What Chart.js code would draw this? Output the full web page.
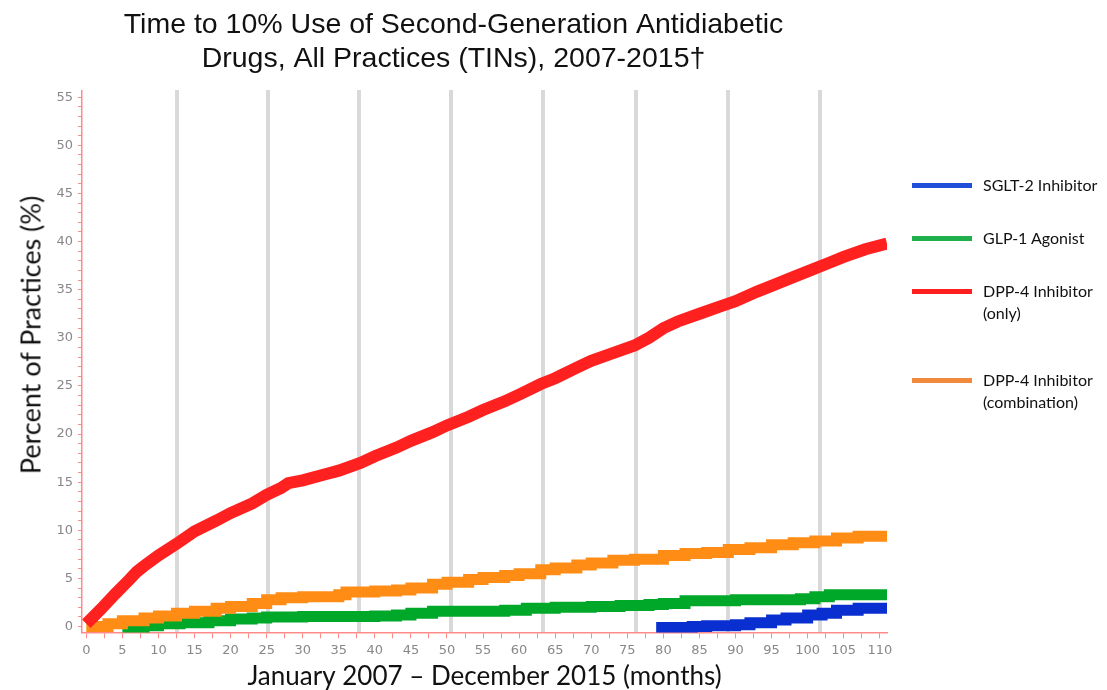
<!DOCTYPE html>
<html lang="en">
<head>
    <meta charset="UTF-8">
    <title>Time to 10% Use of Second-Generation Antidiabetic Drugs</title>
    <script src="https://cdn.jsdelivr.net/npm/chart.js@4.4.1/dist/chart.umd.min.js"></script>
    <style>
        body { margin: 0; background: #fff; }
        #wrap { position: relative; width: 1107px; height: 690px; }
        .legend { position: absolute; left: 912px; top: 0; font-family: Lato, sans-serif; font-size: 16px; color: #111; }
        .legend .item { position: absolute; left: 0; white-space: nowrap; }
        .legend .sw { position: absolute; left: 0; width: 60px; height: 5px; }
        .legend .txt { position: absolute; left: 71px; line-height: 22px; }
        #ytitle { position: absolute; left: 30px; top: 335px; transform: translate(-50%, -50%) rotate(-90deg);
                  white-space: nowrap; font-family: Lato, sans-serif; font-size: 27px; color: #111; }
    </style>
</head>
<body>
<div id="wrap">
    <canvas id="chart1"></canvas>
    <div id="ytitle">Percent of Practices (%)</div>
    <div class="legend" id="legend"></div>
</div>
<script>
    // months since January 2007 and percent of practices
    const redMonths = [0, 2, 4, 6, 7, 8, 10, 12.5, 15, 18, 20, 23, 25, 27, 28, 30, 33, 35, 38, 40, 43, 45, 48, 50, 53, 55, 58, 60, 63, 65, 68, 70, 73, 76, 78, 80, 82, 85, 88, 90, 93, 95, 98, 100, 103, 105, 108, 111];
    const redValues = [0.3, 1.8, 3.4, 4.9, 5.7, 6.3, 7.4, 8.6, 9.9, 11.0, 11.8, 12.8, 13.7, 14.4, 14.9, 15.2, 15.8, 16.2, 17.0, 17.7, 18.6, 19.3, 20.2, 20.9, 21.8, 22.5, 23.4, 24.1, 25.2, 25.8, 26.9, 27.6, 28.4, 29.2, 30.0, 31.0, 31.7, 32.5, 33.3, 33.8, 34.8, 35.4, 36.3, 36.9, 37.8, 38.4, 39.2, 39.8];

    const orangeMonths = [0, 3, 5, 8, 10, 12.5, 15, 18, 20, 23, 25, 27, 30, 35, 36, 40, 43, 45, 48, 50, 53, 55, 58, 60, 63, 65, 68, 70, 73, 76, 80, 83, 86, 89, 92, 95, 98, 101, 104, 107, 111];
    const orangeValues = [0, 0.3, 0.6, 0.9, 1.1, 1.4, 1.6, 1.9, 2.1, 2.4, 2.8, 3.0, 3.1, 3.3, 3.6, 3.7, 3.8, 4.0, 4.4, 4.6, 4.9, 5.1, 5.3, 5.5, 5.9, 6.1, 6.4, 6.6, 6.9, 7.0, 7.4, 7.6, 7.7, 8.0, 8.2, 8.5, 8.7, 8.9, 9.2, 9.4, 9.3];

    const greenMonths = [5, 8, 10, 13, 17, 20, 23, 25, 30, 35, 40, 43, 45, 48, 52, 58, 61, 65, 70, 74, 78, 80, 83, 90, 95, 99, 101, 103, 107, 111];
    const greenValues = [-0.2, 0.1, 0.3, 0.4, 0.6, 0.8, 0.9, 1.0, 1.05, 1.05, 1.1, 1.2, 1.4, 1.6, 1.6, 1.7, 1.9, 2.0, 2.1, 2.2, 2.3, 2.4, 2.7, 2.8, 2.8, 2.9, 3.1, 3.3, 3.3, 3.4];

    const blueMonths = [79, 84, 86, 90, 92, 95, 97, 100, 102, 104, 107, 111];
    const blueValues = [-0.1, 0, 0.1, 0.2, 0.4, 0.7, 0.9, 1.2, 1.4, 1.7, 1.9, 2.2];

    // light grey vertical year markers
    const yearLines = [12.58, 25.15, 37.77, 50.6, 63.3, 76.2, 88.9, 101.7];

    const xTickLabels = [0, 5, 10, 15, 20, 25, 30, 35, 40, 45, 50, 55, 60, 65, 70, 75, 80, 85, 90, 95, 100, 105, 110];
    const yTickLabels = [0, 5, 10, 15, 20, 25, 30, 35, 40, 45, 50, 55];

    const titleLines = ["Time to 10% Use of Second-Generation Antidiabetic", "Drugs, All Practices (TINs), 2007-2015\u2020"];

    const legendItems = [
        { text: ["SGLT-2 Inhibitor"], color: "#1f4fd8", y: 185 },
        { text: ["GLP-1 Agonist"], color: "#1fb04c", y: 238 },
        { text: ["DPP-4 Inhibitor", "(only)"], color: "#ff1f1f", y: 291 },
        { text: ["DPP-4 Inhibitor", "(combination)"], color: "#f08a3c", y: 380 }
    ];

    function pts(xs, ys) {
        return xs.map((x, i) => ({ x: x, y: ys[i] }));
    }

    // major labelled ticks plus small unlabelled ones in between
    function minorTicks(labels, step) {
        let out = [];
        for (let v = labels[0]; v <= labels[labels.length - 1] + 1e-9; v += step) {
            out.push({ value: Math.round(v * 10) / 10 });
        }
        return out;
    }

    const xMin = -0.6, xMax = 111, yMin = -0.6, yMax = 55.7;
    const axisRed = "#ff8a8a";
    const tickFont = { family: "DejaVu Sans", size: 13 };

    new Chart("chart1", {
        type: "line",
        data: {
            datasets: [{
                label: "DPP-4 Inhibitor (only)",
                data: pts(redMonths, redValues),
                borderColor: "#ff2020",
                borderWidth: 12,
                pointRadius: 0,
                order: 1
            }, {
                label: "DPP-4 Inhibitor (combination)",
                data: pts(orangeMonths, orangeValues),
                borderColor: "#ff8c14",
                borderWidth: 11,
                stepped: true,
                pointRadius: 0,
                order: 2
            }, {
                label: "SGLT-2 Inhibitor",
                data: pts(blueMonths, blueValues),
                borderColor: "#0a2fd0",
                borderWidth: 11,
                stepped: true,
                pointRadius: 0,
                order: 3
            }, {
                label: "GLP-1 Agonist",
                data: pts(greenMonths, greenValues),
                borderColor: "#00a82a",
                borderWidth: 11,
                stepped: true,
                pointRadius: 0,
                order: 4
            }]
        },
        options: {
            responsive: true,
            maintainAspectRatio: false,
            animation: false,
            layout: { padding: { left: 20, right: 220, top: 6, bottom: 0 } },
            plugins: {
                legend: { display: false },
                tooltip: { enabled: false },
                title: {
                    display: true,
                    text: titleLines,
                    color: "#111",
                    font: { family: "Liberation Sans", size: 28.5, weight: "normal", lineHeight: 1.2 },
                    padding: { top: 2, bottom: 14 }
                }
            },
            scales: {
                x: {
                    type: "linear",
                    min: xMin,
                    max: xMax,
                    afterBuildTicks: axis => { axis.ticks = minorTicks(xTickLabels, 2.5); },
                    border: { color: axisRed, width: 1.5 },
                    grid: { drawOnChartArea: false, color: axisRed, tickLength: 6 },
                    ticks: {
                        autoSkip: false,
                        maxRotation: 0,
                        color: "#888",
                        font: tickFont,
                        padding: 4,
                        callback: v => xTickLabels.includes(v) ? String(v) : ""
                    },
                    title: {
                        display: true,
                        text: "January 2007 \u2013 December 2015 (months)",
                        color: "#111",
                        font: { family: "Lato", size: 26, lineHeight: 1.0 },
                        padding: { top: 2, bottom: 0 }
                    }
                },
                xYear: {
                    type: "linear",
                    position: "top",
                    min: xMin,
                    max: xMax,
                    afterBuildTicks: axis => { axis.ticks = yearLines.map(v => ({ value: v })); },
                    border: { display: false },
                    grid: { color: "#d9d9d9", lineWidth: 4, drawTicks: false },
                    ticks: { display: false }
                },
                y: {
                    min: yMin,
                    max: yMax,
                    afterBuildTicks: axis => { axis.ticks = minorTicks(yTickLabels, 1); },
                    afterFit: axis => { axis.width = 62; },
                    border: { color: axisRed, width: 1.5 },
                    grid: { drawOnChartArea: false, color: axisRed, tickLength: 4 },
                    ticks: {
                        autoSkip: false,
                        color: "#888",
                        font: tickFont,
                        padding: 5,
                        callback: v => yTickLabels.includes(v) ? String(v) : ""
                    }
                }
            }
        }
    });

    const legend = document.getElementById("legend");
    legendItems.forEach(item => {
        const el = document.createElement("div");
        el.className = "item";
        el.style.top = item.y + "px";
        el.innerHTML = '<div class="sw" style="top:-2px;background:' + item.color + '"></div>' +
            '<div class="txt" style="top:-11px">' + item.text.join("<br>") + '</div>';
        legend.appendChild(el);
    });
</script>
</body>
</html>
